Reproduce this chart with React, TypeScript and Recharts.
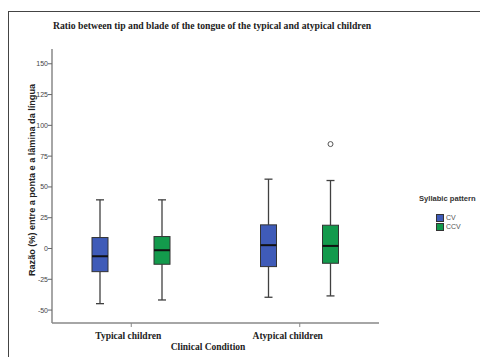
import React from "react";
import {
  ComposedChart,
  Bar,
  XAxis,
  YAxis,
} from "recharts";

// clinical condition groups
const categories = ["Typical children", "Atypical children"];

// CV syllabic pattern
const cvMin = [-44.8, -39.6];
const cvQ1 = [-18.8, -14.7];
const cvMedian = [-6.3, 2.7];
const cvQ3 = [8.9, 19.2];
const cvMax = [39.5, 56.3];
const cvOutliers: number[][] = [[], []];

// CCV syllabic pattern
const ccvMin = [-41.8, -38.5];
const ccvQ1 = [-12.8, -12.0];
const ccvMedian = [-1.4, 2.1];
const ccvQ3 = [9.7, 18.9];
const ccvMax = [39.5, 55.2];
const ccvOutliers: number[][] = [[], [84.8]];

const yTicks = [-50, -25, 0, 25, 50, 75, 100, 125, 150];
const seriesNames = ["CV", "CCV"];

const CV_COLOR = "#3f5bb8";
const CCV_COLOR = "#139a4c";

const data = categories.map((category, i) => ({
  category,
  cv: {
    min: cvMin[i],
    q1: cvQ1[i],
    median: cvMedian[i],
    q3: cvQ3[i],
    max: cvMax[i],
    outliers: cvOutliers[i],
  },
  ccv: {
    min: ccvMin[i],
    q1: ccvQ1[i],
    median: ccvMedian[i],
    q3: ccvQ3[i],
    max: ccvMax[i],
    outliers: ccvOutliers[i],
  },
}));

// draws one box with whiskers; the bar spans min..max so we map the
// other stats with the same linear scale
function BoxShape(props: any) {
  const { x, y, width, height, stats, fill } = props;
  if (stats == null || !height) return null;
  const top = Math.min(y, y + height);
  const h = Math.abs(height);
  const k = h / (stats.max - stats.min);
  const toY = (v: number) => top + (stats.max - v) * k;
  const cx = x + width / 2;
  const cap = 4;
  const line = "#404040";
  return (
    <g>
      <line x1={cx} x2={cx} y1={toY(stats.max)} y2={toY(stats.q3)} stroke={line} strokeWidth={1.3} />
      <line x1={cx} x2={cx} y1={toY(stats.q1)} y2={toY(stats.min)} stroke={line} strokeWidth={1.3} />
      <line x1={cx - cap} x2={cx + cap} y1={toY(stats.max)} y2={toY(stats.max)} stroke={line} strokeWidth={1.3} />
      <line x1={cx - cap} x2={cx + cap} y1={toY(stats.min)} y2={toY(stats.min)} stroke={line} strokeWidth={1.3} />
      <rect
        x={x}
        y={toY(stats.q3)}
        width={width}
        height={toY(stats.q1) - toY(stats.q3)}
        fill={fill}
        stroke="#333"
        strokeWidth={1}
      />
      <line x1={x} x2={x + width} y1={toY(stats.median)} y2={toY(stats.median)} stroke="#111" strokeWidth={2} />
      {stats.outliers.map((o: number, j: number) => (
        <circle key={j} cx={cx} cy={toY(o)} r={2.5} fill="#fff" stroke="#555" strokeWidth={1} />
      ))}
    </g>
  );
}

const tickShift = [-3, -12];

function CategoryTick(props: any) {
  const { x, y, payload, index } = props;
  return (
    <text
      x={x + (tickShift[index] ?? 0)}
      y={y + 10}
      textAnchor="middle"
      fontFamily="'Liberation Serif', serif"
      fontWeight="bold"
      fontSize={9.5}
      fill="#222"
    >
      {payload.value}
    </text>
  );
}

function YTitle(props: any) {
  const vb = props.viewBox;
  const cx = vb.x + 24;
  const cy = 180;
  return (
    <text
      x={cx}
      y={cy}
      transform={`rotate(-90, ${cx}, ${cy})`}
      textAnchor="middle"
      dominantBaseline="central"
      fontFamily="'Liberation Sans', Arial, sans-serif"
      fontWeight="bold"
      fontSize={9.1}
      fill="#222"
    >
      Razão (%) entre a ponta e a lâmina da língua
    </text>
  );
}

function LegendBox() {
  const colors = [CV_COLOR, CCV_COLOR];
  return (
    <div
      style={{
        position: "absolute",
        left: 419,
        top: 194,
        fontFamily: "'Liberation Sans', Arial, sans-serif",
      }}
    >
      <div style={{ fontSize: 7.6, fontWeight: "bold", color: "#333", whiteSpace: "nowrap", lineHeight: "10px" }}>
        Syllabic pattern
      </div>
      <div style={{ marginTop: 10, marginLeft: 17 }}>
        {seriesNames.map((name, i) => (
          <div key={name} style={{ display: "flex", alignItems: "center", height: 8.7 }}>
            <span
              style={{
                display: "inline-block",
                width: 6,
                height: 6,
                background: colors[i],
                border: "1px solid #333",
                marginRight: 2,
              }}
            />
            <span style={{ fontSize: 7, color: "#555", lineHeight: "8px" }}>{name}</span>
          </div>
        ))}
      </div>
    </div>
  );
}

export default function App() {
  return (
    <div style={{ position: "fixed", left: 0, top: 0, width: 480, height: 357, background: "#fff", overflow: "hidden" }}>
      <div
        style={{
          position: "absolute",
          left: 8,
          top: 11,
          width: 480,
          height: 360,
          borderLeft: "1.5px solid #444",
          borderTop: "1.5px solid #444",
        }}
      />
      <div
        style={{
          position: "absolute",
          left: 53,
          top: 20,
          fontFamily: "'Liberation Serif', serif",
          fontWeight: "bold",
          fontSize: 9.7,
          lineHeight: "12px",
          color: "#222",
          whiteSpace: "nowrap",
        }}
      >
        Ratio between tip and blade of the tongue of the typical and atypical children
      </div>
      <div style={{ position: "absolute", left: 0, top: 0 }}>
        <ComposedChart
          width={480}
          height={357}
          data={data}
          margin={{ top: 49, right: 101, bottom: 0, left: 8 }}
          barSize={16}
          barGap={46}
        >
          <XAxis
            dataKey="category"
            height={34}
            padding={{ left: -5, right: -5 }}
            axisLine={{ stroke: "#888", strokeWidth: 1.5 }}
            tickLine={{ stroke: "#888" }}
            tickSize={4}
            tick={<CategoryTick />}
          />
          <XAxis
            xAxisId="top"
            dataKey="category"
            orientation="top"
            height={0}
            tick={false}
            tickLine={false}
            axisLine={{ stroke: "#888", strokeWidth: 1.5 }}
          />
          <YAxis
            width={44}
            domain={[-60.5, 162]}
            ticks={yTicks}
            allowDataOverflow
            axisLine={{ stroke: "#888", strokeWidth: 1.5 }}
            tickLine={{ stroke: "#666" }}
            tickSize={4}
            tickMargin={0}
            tick={{ fontSize: 7, fill: "#444", fontFamily: "'Liberation Sans', Arial, sans-serif" }}
            label={{ content: (p: any) => <YTitle {...p} /> }}
          />
          <YAxis
            yAxisId="right"
            orientation="right"
            width={0}
            domain={[-60.5, 162]}
            tick={false}
            tickLine={false}
            axisLine={{ stroke: "#888", strokeWidth: 1.5 }}
          />
          <Bar
            name="CV"
            dataKey={(d: any) => [d.cv.min, d.cv.max]}
            fill={CV_COLOR}
            isAnimationActive={false}
            shape={(p: any) => <BoxShape {...p} stats={p.payload?.cv} fill={CV_COLOR} />}
          />
          <Bar
            name="CCV"
            dataKey={(d: any) => [d.ccv.min, d.ccv.max]}
            fill={CCV_COLOR}
            isAnimationActive={false}
            shape={(p: any) => <BoxShape {...p} stats={p.payload?.ccv} fill={CCV_COLOR} />}
          />
        </ComposedChart>
      </div>
      <div
        style={{
          position: "absolute",
          left: 152,
          top: 341,
          width: 112,
          textAlign: "center",
          fontFamily: "'Liberation Serif', serif",
          fontWeight: "bold",
          fontSize: 9.5,
          lineHeight: "12px",
          color: "#222",
          whiteSpace: "nowrap",
        }}
      >
        Clinical Condition
      </div>
      <LegendBox />
    </div>
  );
}
